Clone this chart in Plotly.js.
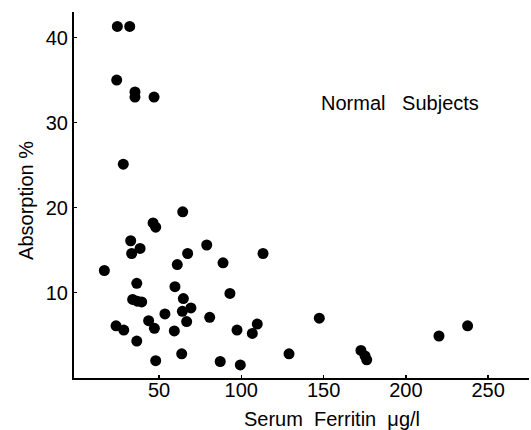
<!DOCTYPE html>
<html>
<head>
<meta charset="utf-8">
<script src="https://cdn.plot.ly/plotly-3.0.1.min.js"></script>
<style>html,body{margin:0;padding:0;background:#fff;}#chart{width:531px;height:430px;}</style>
</head>
<body>
<div id="chart"></div>
<script>
const ferritin = [24.7, 32.2, 24.3, 35.4, 35.4, 47.0, 28.3, 64.4, 46.4, 48.0,
  32.8, 38.5, 33.4, 79.0, 67.4, 88.9, 61.1, 113.2, 16.8, 36.5,
  59.7, 93.1, 64.8, 34.0, 36.8, 39.5, 69.4, 64.2, 53.6, 80.8,
  66.8, 43.7, 23.9, 47.2, 28.6, 59.3, 97.4, 109.7, 106.7, 36.5,
  63.8, 48.0, 87.2, 99.4, 147.4, 129.0, 172.7, 175.2, 176.2, 220.1, 237.5];
const absorption = [41.3, 41.3, 35.0, 33.6, 33.0, 33.0, 25.1, 19.5, 18.2, 17.7,
  16.1, 15.2, 14.6, 15.6, 14.6, 13.5, 13.3, 14.6, 12.6, 11.1,
  10.7, 9.9, 9.3, 9.2, 9.0, 8.9, 8.2, 7.8, 7.5, 7.1,
  6.6, 6.7, 6.1, 5.8, 5.6, 5.5, 5.6, 6.3, 5.2, 4.3,
  2.8, 2.0, 1.9, 1.5, 7.0, 2.8, 3.2, 2.55, 2.1, 4.9, 6.1];
const xTicks = [50, 100, 150, 200, 250];
const yTicks = [10, 20, 30, 40];
const xTitle = "Serum\u00a0 Ferritin\u00a0 \u03bcg/l";
const yTitle = "Absorption\u00a0%";
const groupLabel = "Normal\u00a0 \u00a0Subjects";

const font = "Liberation Sans, Arial, Helvetica, sans-serif";

const trace = {
  x: ferritin, y: absorption, type: 'scatter', mode: 'markers',
  marker: {color: '#000', size: 11},
  hoverinfo: 'x+y'
};
const layout = {
  width: 531, height: 430,
  margin: {l: 74, r: 2, t: 12, b: 52},
  paper_bgcolor: '#fff', plot_bgcolor: '#fff',
  showlegend: false,
  font: {family: font, color: '#000', size: 20},
  xaxis: {
    range: [-1.64, 274.8], tickvals: xTicks, ticktext: xTicks.map(String),
    ticks: 'inside', ticklen: 3, tickwidth: 1.5, tickcolor: '#000',
    ticklabelstandoff: -7,
    showline: true, linecolor: '#000', linewidth: 2,
    showgrid: false, zeroline: false,
    tickfont: {family: font, size: 20, color: '#000'}
  },
  yaxis: {
    range: [-0.04, 43.0], tickvals: yTicks, ticktext: yTicks.map(String),
    ticks: 'inside', ticklen: 3, tickwidth: 1.5, tickcolor: '#000',
    showline: true, linecolor: '#000', linewidth: 2,
    showgrid: false, zeroline: false,
    tickfont: {family: font, size: 20, color: '#000'}
  },
  annotations: [
    {text: xTitle, xref: 'x', yref: 'paper', x: 155, y: -0.113, xanchor: 'center', yanchor: 'middle', showarrow: false, font: {family: font, size: 20, color: '#000'}},
    {text: yTitle, xref: 'paper', yref: 'paper', x: -0.106, y: 0.486, xanchor: 'center', yanchor: 'middle', textangle: -90, showarrow: false, font: {family: font, size: 20, color: '#000'}},
    {text: groupLabel, xref: 'x', yref: 'y', x: 196.4, y: 32.3, xanchor: 'center', yanchor: 'middle', showarrow: false, font: {family: font, size: 20, color: '#000'}}
  ]
};
Plotly.newPlot('chart', [trace], layout, {displayModeBar: false, staticPlot: true});
</script>
</body>
</html>
